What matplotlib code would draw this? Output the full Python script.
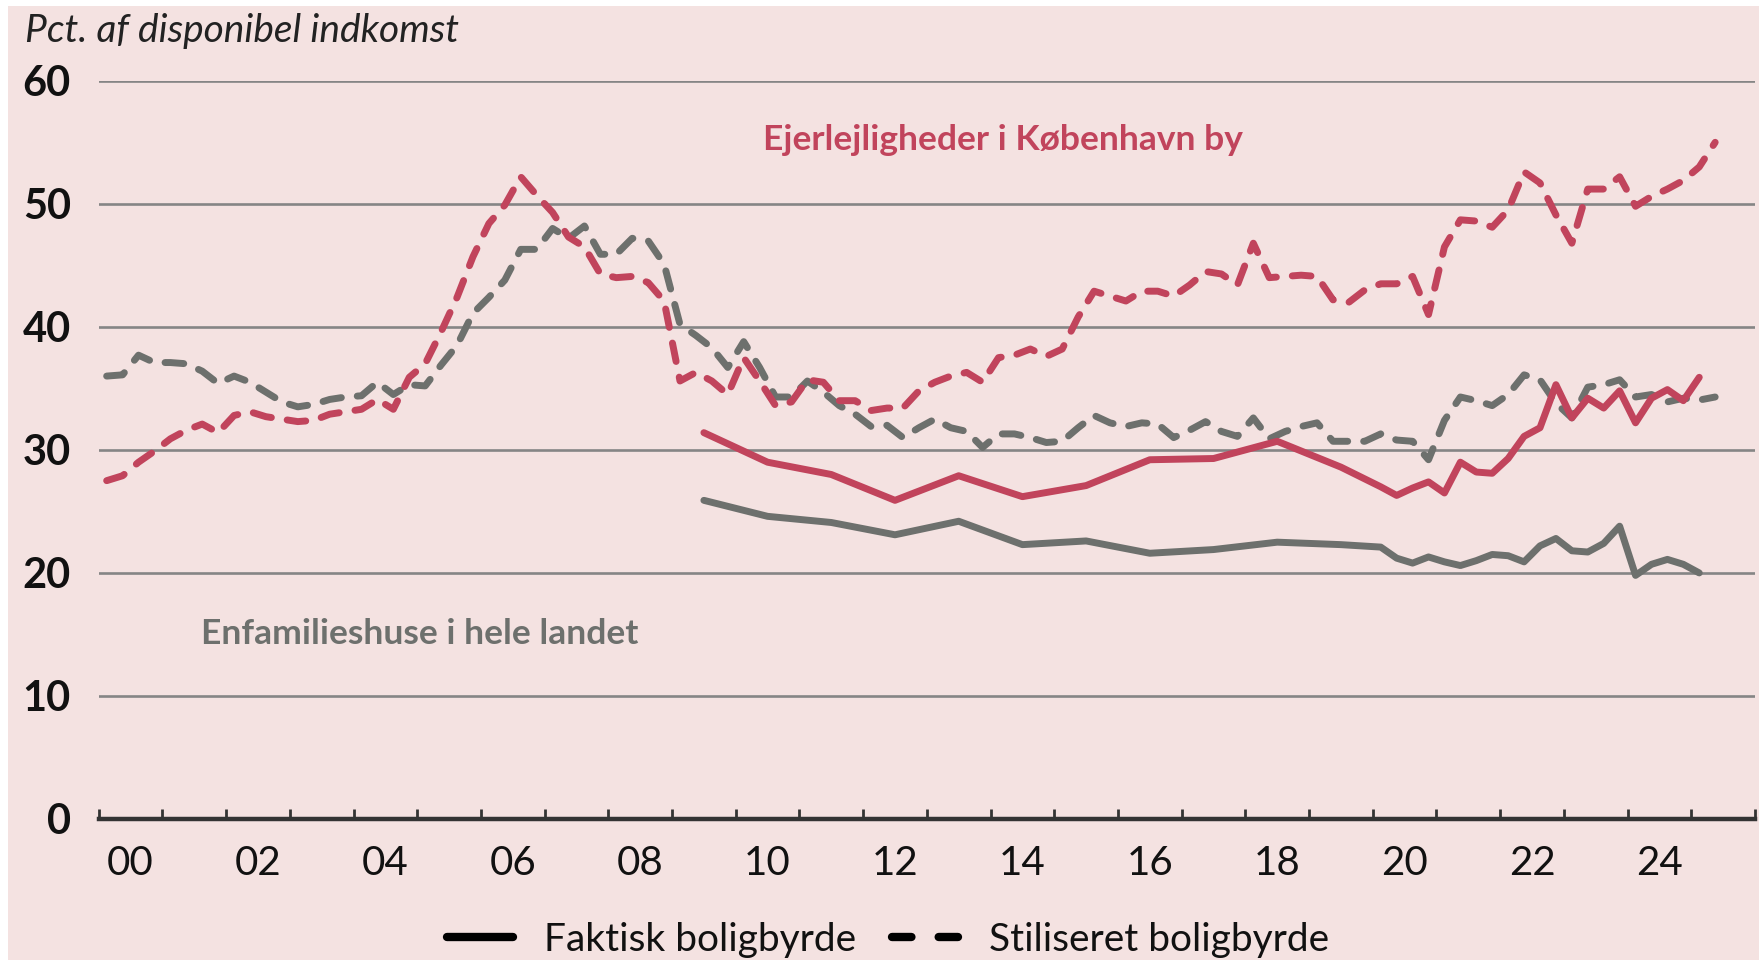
import numpy as np
import matplotlib
matplotlib.use("Agg")
import matplotlib.pyplot as plt
from matplotlib.lines import Line2D
from matplotlib.patches import Rectangle

# ---------------- data ----------------
# Stylised burden, quarterly 2000Q1 - 2025Q2
red_dashed = [
    27.5, 27.9, 29.0, 29.9,   # 2000
    30.9, 31.6, 32.1, 31.4,   # 2001
    32.8, 33.1, 32.7, 32.5,   # 2002
    32.3, 32.4, 32.9, 33.1,   # 2003
    33.3, 34.1, 33.3, 35.9,   # 2004
    37.0, 39.6, 42.4, 45.7,   # 2005
    48.4, 49.9, 52.2, 50.7,   # 2006
    49.3, 47.3, 46.5, 44.3,   # 2007
    44.0, 44.1, 43.6, 42.1,   # 2008
    35.6, 36.3, 35.6, 34.5,   # 2009
    37.5, 35.6, 33.6, 33.9,   # 2010
    35.7, 35.5, 34.0, 34.0,   # 2011
    33.2, 33.4, 33.4, 34.8,   # 2012
    35.5, 36.0, 36.3, 35.5,   # 2013
    37.5, 37.7, 38.2, 37.6,   # 2014
    38.2, 40.8, 42.9, 42.5,   # 2015
    42.1, 42.9, 42.9, 42.5,   # 2016
    43.4, 44.5, 44.3, 43.4,   # 2017
    46.8, 44.0, 44.1, 44.2,   # 2018
    44.1, 42.2, 42.0, 43.0,   # 2019
    43.5, 43.5, 44.1, 41.0,   # 2020
    46.5, 48.7, 48.6, 48.1,   # 2021
    49.5, 52.6, 51.7, 49.1,   # 2022
    46.8, 51.2, 51.2, 52.2,   # 2023
    49.8, 50.6, 51.2, 51.9,   # 2024
    53.0, 55.0,               # 2025
]
grey_dashed = [
    36.0, 36.1, 37.7, 37.1,   # 2000
    37.1, 37.0, 36.4, 35.4,   # 2001
    36.0, 35.5, 34.7, 33.9,   # 2002
    33.5, 33.7, 34.1, 34.3,   # 2003
    34.4, 35.5, 34.5, 35.3,   # 2004
    35.2, 36.9, 38.5, 41.1,   # 2005
    42.4, 43.8, 46.3, 46.3,   # 2006
    48.0, 47.2, 48.2, 45.9,   # 2007
    45.9, 47.2, 47.0, 45.1,   # 2008
    40.2, 39.3, 38.3, 36.7,   # 2009
    38.8, 36.7, 34.3, 34.3,   # 2010
    35.6, 34.7, 33.6, 32.9,   # 2011
    31.9, 32.0, 31.0, 31.8,   # 2012
    32.5, 31.8, 31.5, 30.2,   # 2013
    31.3, 31.3, 31.0, 30.6,   # 2014
    30.7, 31.8, 32.8, 32.2,   # 2015
    31.9, 32.2, 32.1, 31.0,   # 2016
    31.6, 32.3, 31.5, 31.1,   # 2017
    32.6, 30.9, 31.5, 31.9,   # 2018
    32.2, 30.7, 30.7, 30.7,   # 2019
    31.3, 30.8, 30.7, 29.2,   # 2020
    32.4, 34.3, 34.0, 33.6,   # 2021
    34.5, 36.1, 35.7, 33.8,   # 2022
    32.6, 35.1, 35.3, 35.7,   # 2023
    34.3, 34.5, 33.9, 34.2,   # 2024
    34.05, 34.3,              # 2025
]

# Actual burden: annual 2009-2019, then quarterly 2020Q1 - 2025Q1
annual_years = list(range(2009, 2020))
red_solid_annual = [31.4, 29.0, 28.0, 25.9, 27.9, 26.2, 27.1, 29.2, 29.3, 30.7, 28.6]
grey_solid_annual = [25.9, 24.6, 24.1, 23.1, 24.2, 22.3, 22.6, 21.6, 21.9, 22.5, 22.3]
red_solid_q = [27.0, 26.3, 26.9, 27.4, 26.5, 29.0, 28.2, 28.1, 29.3, 31.1, 31.8,
               35.3, 32.6, 34.2, 33.4, 34.8, 32.2, 34.2, 34.9, 34.0, 35.9]
grey_solid_q = [22.1, 21.2, 20.8, 21.3, 20.9, 20.6, 21.0, 21.5, 21.4, 20.9, 22.2,
                22.8, 21.8, 21.7, 22.4, 23.8, 19.8, 20.7, 21.1, 20.7, 20.0]

xtick_labels = ["00", "02", "04", "06", "08", "10", "12", "14", "16", "18", "20", "22", "24"]
ytick_values = [0, 10, 20, 30, 40, 50, 60]

# ---------------- positions ----------------
q_dash = 2000 + 0.125 + 0.25 * np.arange(len(red_dashed))
x_solid = np.concatenate([np.array(annual_years) + 0.5,
                          2020 + 0.125 + 0.25 * np.arange(len(red_solid_q))])
red_solid = red_solid_annual + red_solid_q
grey_solid = grey_solid_annual + grey_solid_q

# ---------------- style ----------------
RED = "#C1445C"
GREY = "#6D706D"
BG = "#F4E2E1"
FONT = ["Lato", "DejaVu Sans"]
plt.rcParams["font.family"] = FONT
plt.rcParams["lines.scale_dashes"] = False

fig = plt.figure(figsize=(17.59, 9.60), dpi=100, facecolor="white")
fig.patches.append(Rectangle((8 / 1759, 0), 1, 954 / 960, transform=fig.transFigure,
                             facecolor=BG, edgecolor="none", zorder=-10))

ax = fig.add_axes([98.7 / 1759, 141 / 960, (1755 - 98.7) / 1759, (819 - 80.8) / 960])
ax.set_facecolor("none")
ax.set_xlim(2000, 2026)
ax.set_ylim(0, 60)

for v in ytick_values[1:]:
    ax.axhline(v, color="#858585", lw=1.9, zorder=1)

dash = (0, (13.5, 11.5))
lw = 5.0
ax.plot(q_dash, grey_dashed, color=GREY, lw=lw, ls=dash, dash_capstyle="round",
        dash_joinstyle="round", zorder=3)
ax.plot(q_dash, red_dashed, color=RED, lw=lw, ls=dash, dash_capstyle="round",
        dash_joinstyle="round", zorder=4)
ax.plot(x_solid, grey_solid, color=GREY, lw=5.0, solid_capstyle="round",
        solid_joinstyle="round", zorder=3)
ax.plot(x_solid, red_solid, color=RED, lw=5.0, solid_capstyle="round",
        solid_joinstyle="round", zorder=4)

# spines
for s in ["top", "right", "left"]:
    ax.spines[s].set_visible(False)
ax.spines["bottom"].set_color("#333333")
ax.spines["bottom"].set_linewidth(3.2)
ax.spines["bottom"].set_zorder(5)

# x ticks: marks at year boundaries, labels at mid-year of even years
ax.set_xticks(np.arange(2000, 2027, 1), minor=True)
ax.set_xticks(np.arange(2000, 2025, 2) + 0.5)
ax.set_xticklabels(xtick_labels)
ax.tick_params(axis="x", which="minor", direction="in", length=7, width=2.0,
               color="#333333")
ax.tick_params(axis="x", which="major", length=0, pad=19, labelsize=29,
               labelcolor="#111111")

ax.set_yticks(ytick_values)
ax.set_yticklabels([str(v) for v in ytick_values])
ax.tick_params(axis="y", length=0, pad=20, labelsize=30, labelcolor="#111111")
for t in ax.get_yticklabels():
    t.set_fontweight("bold")

# texts
fig.text(25 / 1759, 1 - 31 / 960, "Pct. af disponibel indkomst", fontsize=28,
         style="italic", color="#222222", ha="left", va="center")
ax.text(2014.2, 55.2, "Ejerlejligheder i København by", color=RED, fontsize=25.5,
        fontweight="bold", ha="center", va="center")
ax.text(2001.6, 15.0, "Enfamilieshuse i hele landet", color=GREY, fontsize=25.5,
        fontweight="bold", ha="left", va="center")

handles = [Line2D([], [], color="black", lw=6, solid_capstyle="round"),
           Line2D([], [], color="black", lw=6, ls=(0, (14, 19.6)), dash_capstyle="round")]
fig.legend(handles, ["Faktisk boligbyrde", "Stiliseret boligbyrde"], loc="center",
           bbox_to_anchor=(888 / 1759, 1 - 940 / 960), ncol=2, frameon=False,
           fontsize=28, handlelength=1.7, handletextpad=0.8, columnspacing=0.9,
           labelcolor="#111111")

fig.savefig("out.png", dpi=100, facecolor="white")
